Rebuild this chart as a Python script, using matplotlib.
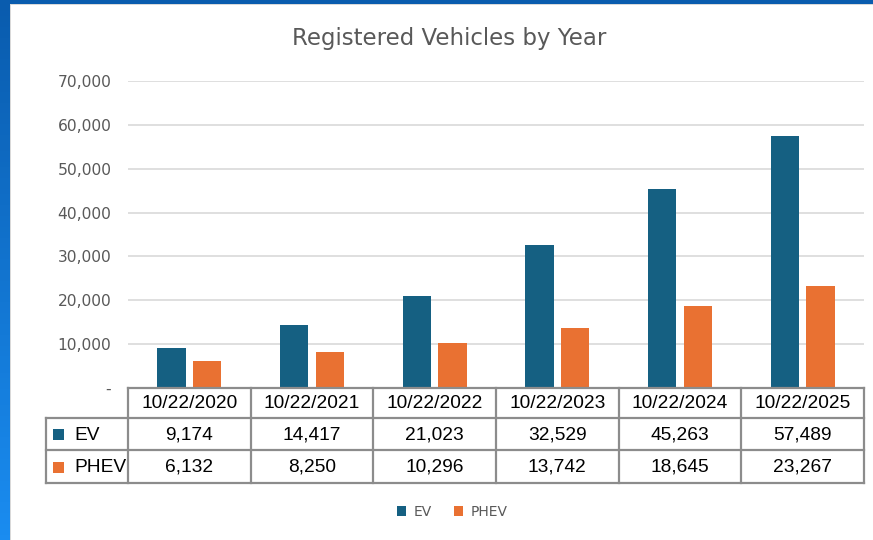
import numpy as np
import matplotlib.pyplot as plt
from matplotlib.patches import Rectangle
from matplotlib.colors import LinearSegmentedColormap

# Data
dates = ["10/22/2020", "10/22/2021", "10/22/2022", "10/22/2023", "10/22/2024", "10/22/2025"]
ev = [9174, 14417, 21023, 32529, 45263, 57489]
phev = [6132, 8250, 10296, 13742, 18645, 23267]
series_names = ["EV", "PHEV"]
colors = ["#156082", "#E97132"]

W, H = 873, 540
fig = plt.figure(figsize=(W / 100, H / 100), dpi=100)
fig.patch.set_facecolor("white")


def fx(px):
    return px / W


def fy(py):
    return 1 - py / H


# window frame (blue strip left and top)
grad = np.linspace(0, 1, 100).reshape(-1, 1)
bg = fig.add_axes([0, 0, fx(10), 1])
bg.imshow(grad, aspect="auto", cmap=LinearSegmentedColormap.from_list(
    "w", ["#0a5cae", "#1a8cf0"]), extent=[0, 1, 0, 1])
bg.set_axis_off()
fig.patches.append(Rectangle((0, fy(4)), 1, 4 / H, transform=fig.transFigure,
                             facecolor="#0a5cae", edgecolor="none"))
fig.patches.append(Rectangle((fx(10), 0), 1.2 / W, fy(4), transform=fig.transFigure,
                             facecolor="#d9d9d9", edgecolor="none"))
fig.patches.append(Rectangle((fx(10), fy(5)), 1, 1.2 / H, transform=fig.transFigure,
                             facecolor="#d9d9d9", edgecolor="none"))

# Plot area
left, right, top, bottom = 128, 864, 81, 388
ax = fig.add_axes([fx(left), fy(bottom), fx(right - left), (bottom - top) / H])
x = np.arange(len(dates))
bw = 0.23
ax.bar(x - 0.145, ev, bw, color=colors[0], zorder=3)
ax.bar(x + 0.145, phev, bw, color=colors[1], zorder=3)
ax.set_xlim(-0.5, len(dates) - 0.5)
ax.set_ylim(0, 70000)
ax.set_yticks(np.arange(0, 70001, 10000))
ax.set_yticklabels(["-"] + [f"{v:,}" for v in range(10000, 70001, 10000)])
ax.yaxis.grid(True, color="#d9d9d9", linewidth=1.2, zorder=0)
ax.tick_params(axis="y", length=0, pad=12, labelsize=11.2, labelcolor="#595959")
ax.set_xticks([])
for s in ax.spines.values():
    s.set_visible(False)

fig.text(fx(449), fy(38), "Registered Vehicles by Year", ha="center", va="center",
         fontsize=16.5, color="#595959")

# Data table
tab = fig.add_axes([0, 0, 1, 1], facecolor="none")
tab.set_xlim(0, W)
tab.set_ylim(H, 0)
tab.set_axis_off()
cw = (right - left) / len(dates)
rows = [388, 418, 450, 483]
lc = "#8c8c8c"
lw = 1.6
tab.plot([left, right], [rows[0], rows[0]], color=lc, lw=lw)
for r in rows[1:]:
    tab.plot([46, right], [r, r], color=lc, lw=lw)
tab.plot([46, 46], [rows[1], rows[3]], color=lc, lw=lw)
for i in range(len(dates) + 1):
    tab.plot([left + i * cw] * 2, [rows[0], rows[3]], color=lc, lw=lw)
fs = 13.8
for i, d in enumerate(dates):
    cx = left + (i + 0.5) * cw
    tab.text(cx, (rows[0] + rows[1]) / 2 + 1, d, ha="center", va="center", fontsize=fs,
             color="black", family="Liberation Sans")
    for j, vals in enumerate([ev, phev]):
        tab.text(cx, (rows[j + 1] + rows[j + 2]) / 2 + 1, f"{vals[i]:,}", ha="center",
                 va="center", fontsize=fs, color="black", family="Liberation Sans")
for j, name in enumerate(series_names):
    cy = (rows[j + 1] + rows[j + 2]) / 2
    tab.add_patch(Rectangle((53, cy - 5), 11, 11, facecolor=colors[j], edgecolor="none"))
    tab.text(74, cy + 1, name, ha="left", va="center", fontsize=fs, color="black",
             family="Liberation Sans")

# Legend
handles = [Rectangle((0, 0), 1, 1, facecolor=c) for c in colors]
fig.legend(handles, series_names, loc="center", bbox_to_anchor=(fx(452), fy(512)),
           ncol=2, frameon=False, fontsize=10, labelcolor="#595959",
           handlelength=0.7, handleheight=0.7, handletextpad=0.5, columnspacing=1.6)

fig.savefig("out.png", dpi=100, facecolor="white")
